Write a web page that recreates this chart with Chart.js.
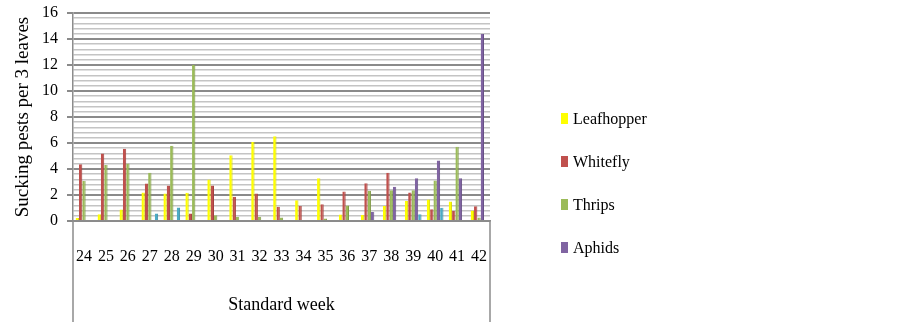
<!DOCTYPE html>
<html>
<head>
<meta charset="utf-8">
<script src="https://cdn.jsdelivr.net/npm/chart.js@4/dist/chart.umd.min.js"></script>
<style>
  html, body { margin: 0; padding: 0; background: #fff; }
  #wrap { position: relative; width: 903px; height: 332px; }
  #legend { position: absolute; left: 561px; top: 0; font-family: "Liberation Serif", "Times New Roman", serif; font-size: 16px; color: #000; }
  .item { position: absolute; left: 0; white-space: nowrap; height: 20px; line-height: 20px; }
  .sw { position: absolute; left: 0; top: 4px; width: 7px; height: 11px; }
  .lbl { position: absolute; left: 12px; top: 0; }
</style>
</head>
<body>
<div id="wrap">
  <canvas id="c" width="903" height="332"></canvas>
  <div id="legend"></div>
</div>
<script>
const weeks = ['24','25','26','27','28','29','30','31','32','33','34','35','36','37','38','39','40','41','42'];
const leafhopper = [0.24,0.52,0.89,2.20,2.12,2.17,3.20,5.05,6.08,6.51,1.60,3.28,0.50,0.47,1.16,1.53,1.66,1.50,0.81];
const whitefly   = [4.36,5.20,5.56,2.89,2.74,0.58,2.74,1.87,2.12,1.09,1.16,1.29,2.27,2.91,3.71,2.20,0.91,0.76,1.14];
const thrips     = [3.07,4.30,4.43,3.71,5.79,12.0,0.45,0.32,0.32,0.27,0,0.19,1.20,2.32,2.37,2.37,3.12,5.71,0.27];
const aphids     = [0,0,0,0,0,0,0,0,0,0,0,0,0,0.70,2.63,3.28,4.66,3.28,14.38];
const others     = [0.08,0.08,0.08,0.58,1.04,0.08,0.08,0.08,0.08,0.08,0.08,0.08,0.08,0.08,0.08,0.52,1.01,0.08,0.08];
const seriesNames = ['Leafhopper','Whitefly','Thrips','Aphids','Others'];
const legendNames = ['Leafhopper','Whitefly','Thrips','Aphids'];
const yTickValues = [0,2,4,6,8,10,12,14,16];

const colors = ['#FFFF00','#C0504D','#9BBB59','#8064A2','#4BACC6'];
const borders = ['#D9D900','#A33F3C','#7F9A46','#664F85','#3C8DA3'];
const seriesData = [leafhopper, whitefly, thrips, aphids, others];

const isMajor = v => yTickValues.some(t => Math.abs(t - v) < 1e-6);

const edgeLines = {
  id: 'edgeLines',
  afterDraw(chart) {
    const { ctx, chartArea } = chart;
    ctx.save();
    ctx.strokeStyle = '#8c8c8c';
    ctx.lineWidth = 1.5;
    ctx.beginPath();
    ctx.moveTo(chartArea.left, chartArea.bottom);
    ctx.lineTo(chartArea.left, 322);
    ctx.moveTo(chartArea.right, chartArea.bottom);
    ctx.lineTo(chartArea.right, 322);
    ctx.stroke();
    ctx.restore();
  }
};

const chart = new Chart(document.getElementById('c'), {
  type: 'bar',
  data: {
    labels: weeks,
    datasets: seriesData.map((d, i) => ({
      label: seriesNames[i],
      data: d,
      backgroundColor: colors[i],
      borderColor: borders[i],
      borderWidth: { left: 0, right: 1, top: 0, bottom: 0 },
      categoryPercentage: 0.76,
      barPercentage: 1.0
    }))
  },
  options: {
    responsive: false,
    animation: false,
    layout: { padding: { top: 13, right: 413, bottom: 0, left: 0 } },
    plugins: { legend: { display: false }, tooltip: { enabled: false } },
    scales: {
      x: {
        grid: { display: true, drawOnChartArea: false, drawTicks: false, color: 'rgba(0,0,0,0)' },
        border: { display: true, color: '#8c8c8c', width: 1.5 },
        ticks: { color: '#000', font: { family: 'Liberation Serif', size: 16 }, padding: 26, maxRotation: 0, autoSkip: false },
        title: { display: true, text: 'Standard week', color: '#000', font: { family: 'Liberation Serif', size: 18 }, padding: { top: 0, bottom: 16 } },
        afterFit(scale) { scale.height = 111; }
      },
      y: {
        min: 0, max: 16,
        ticks: {
          stepSize: 0.4, autoSkip: false, maxTicksLimit: 100,
          color: '#000', font: { family: 'Liberation Serif', size: 16 }, padding: 9,
          callback: v => isMajor(v) ? String(Math.round(v)) : ''
        },
        grid: {
          color: ctx => isMajor(ctx.tick.value) ? '#8a8a8a' : '#c4c4c4',
          lineWidth: ctx => isMajor(ctx.tick.value) ? 2 : 1.6,
          tickLength: 6,
          tickColor: ctx => isMajor(ctx.tick.value) ? '#8a8a8a' : 'rgba(0,0,0,0)'
        },
        border: { display: true, color: '#8c8c8c', width: 1.5 },
        title: { display: true, text: 'Sucking pests per 3 leaves', color: '#000', font: { family: 'Liberation Serif', size: 19 }, padding: { top: 12, bottom: 0 } },
        afterFit(scale) { scale.width = 73; scale.paddingTop = 0; scale.paddingBottom = 0; }
      }
    }
  },
  plugins: [edgeLines]
});

const legendEl = document.getElementById('legend');
const legendCenters = [119, 162, 205, 248];
legendNames.forEach((name, i) => {
  const it = document.createElement('div');
  it.className = 'item';
  it.style.top = (legendCenters[i] - 10) + 'px';
  const sw = document.createElement('span');
  sw.className = 'sw';
  sw.style.background = colors[i];
  const lb = document.createElement('span');
  lb.className = 'lbl';
  lb.textContent = name;
  it.appendChild(sw); it.appendChild(lb);
  legendEl.appendChild(it);
});
</script>
</body>
</html>
